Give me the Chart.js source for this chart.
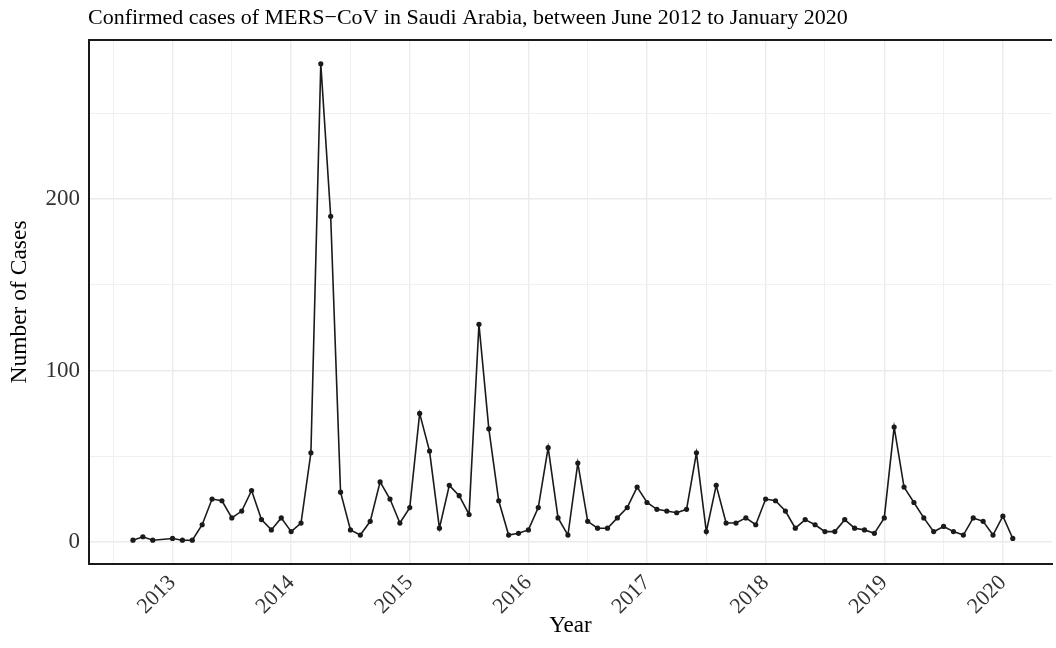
<!DOCTYPE html>
<html>
<head>
<meta charset="utf-8">
<title>MERS-CoV cases in Saudi Arabia</title>
<script src="https://cdn.jsdelivr.net/npm/chart.js@4/dist/chart.umd.min.js"></script>
<style>
  html, body { margin: 0; padding: 0; background: #ffffff; overflow: hidden; }
  canvas { display: block; }
</style>
</head>
<body>
<canvas id="chart" width="1056" height="648"></canvas>
<script>
// Monthly confirmed MERS-CoV cases (Dec 2012 has no report)
const months = [
  '2012-09','2012-10','2012-11',
  '2013-01','2013-02','2013-03','2013-04','2013-05','2013-06','2013-07','2013-08','2013-09','2013-10','2013-11','2013-12',
  '2014-01','2014-02','2014-03','2014-04','2014-05','2014-06','2014-07','2014-08','2014-09','2014-10','2014-11','2014-12',
  '2015-01','2015-02','2015-03','2015-04','2015-05','2015-06','2015-07','2015-08','2015-09','2015-10','2015-11','2015-12',
  '2016-01','2016-02','2016-03','2016-04','2016-05','2016-06','2016-07','2016-08','2016-09','2016-10','2016-11','2016-12',
  '2017-01','2017-02','2017-03','2017-04','2017-05','2017-06','2017-07','2017-08','2017-09','2017-10','2017-11','2017-12',
  '2018-01','2018-02','2018-03','2018-04','2018-05','2018-06','2018-07','2018-08','2018-09','2018-10','2018-11','2018-12',
  '2019-01','2019-02','2019-03','2019-04','2019-05','2019-06','2019-07','2019-08','2019-09','2019-10','2019-11','2019-12',
  '2020-01','2020-02'
];
const cases = [
  1, 3, 1,
  2, 1, 1, 10, 25, 24, 14, 18, 30, 13, 7, 14,
  6, 11, 52, 279, 190, 29, 7, 4, 12, 35, 25, 11,
  20, 75, 53, 8, 33, 27, 16, 127, 66, 24, 4, 5,
  7, 20, 55, 14, 4, 46, 12, 8, 8, 14, 20, 32,
  23, 19, 18, 17, 19, 52, 6, 33, 11, 11, 14, 10,
  25, 24, 18, 8, 13, 10, 6, 6, 13, 8, 7, 5,
  14, 67, 32, 23, 14, 6, 9, 6, 4, 14, 12, 4,
  15, 2
];
const yearTicks = [2013, 2014, 2015, 2016, 2017, 2018, 2019, 2020];
const caseTicks = [0, 100, 200];

const titleText = 'Confirmed cases of MERS\u2212CoV in Saudi Arabia, between June 2012 to January 2020';
const serif = '"Liberation Serif", "DejaVu Serif", "Times New Roman", serif';

// month string -> fractional year
function toYear(m) {
  const [y, mo] = m.split('-').map(Number);
  return y + (mo - 1) / 12;
}
const points = months.map((m, i) => ({ x: toYear(m), y: cases[i] }));

const gridMajor = '#ebebeb';
const gridMinor = '#f0f0f0';

const panelFrame = {
  id: 'panelFrame',
  afterDraw(chart) {
    const { ctx, chartArea } = chart;
    ctx.save();
    // top edge of the panel frame
    ctx.strokeStyle = '#1a1a1a';
    ctx.lineWidth = 2;
    ctx.beginPath();
    ctx.moveTo(chartArea.left - 1, chartArea.top);
    ctx.lineTo(chartArea.right, chartArea.top);
    ctx.stroke();
    // plot title, left-aligned with the panel
    ctx.fillStyle = '#000000';
    ctx.font = '22px ' + serif;
    ctx.textAlign = 'left';
    ctx.textBaseline = 'alphabetic';
    ctx.fillText(titleText, chartArea.left - 1, 24);
    ctx.restore();
  }
};

new Chart(document.getElementById('chart'), {
  type: 'line',
  data: {
    datasets: [{
      data: points,
      borderColor: '#1a1a1a',
      borderWidth: 1.6,
      pointRadius: 2.6,
      pointBackgroundColor: '#1a1a1a',
      pointBorderWidth: 0,
      tension: 0,
      fill: false
    }]
  },
  options: {
    responsive: false,
    devicePixelRatio: 1,
    animation: false,
    events: [],
    layout: { padding: { top: 40, left: 0, right: 0, bottom: 0 } },
    plugins: { legend: { display: false }, tooltip: { enabled: false }, title: { display: false } },
    scales: {
      x: {
        type: 'linear',
        min: 2012.296,
        max: 2020.414,
        afterFit(scale) { scale.height = 84; },
        border: { display: true, color: '#1a1a1a', width: 2 },
        grid: {
          drawTicks: false,
          color: c => (c.tick && Number.isInteger(c.tick.value)) ? gridMajor : gridMinor,
          lineWidth: c => (c.tick && Number.isInteger(c.tick.value)) ? 1.4 : 1
        },
        ticks: {
          stepSize: 0.5,
          includeBounds: false,
          autoSkip: false,
          maxRotation: 45,
          minRotation: 45,
          padding: 6,
          color: '#333333',
          font: { family: serif, size: 22 },
          callback: v => yearTicks.includes(v) ? String(v) : ''
        },
        title: {
          display: true,
          text: 'Year',
          color: '#000000',
          font: { family: serif, size: 23 },
          padding: { top: 0, bottom: 8 }
        }
      },
      y: {
        type: 'linear',
        min: -12.9,
        max: 292.9,
        afterFit(scale) { scale.width = 89; },
        border: { display: true, color: '#1a1a1a', width: 2 },
        grid: {
          drawTicks: false,
          color: c => (c.tick && c.tick.value % 100 === 0) ? gridMajor : gridMinor,
          lineWidth: c => (c.tick && c.tick.value % 100 === 0) ? 1.4 : 1
        },
        ticks: {
          stepSize: 50,
          includeBounds: false,
          autoSkip: false,
          padding: 9,
          color: '#333333',
          font: { family: serif, size: 23 },
          callback: v => caseTicks.includes(v) ? String(v) : ''
        },
        title: {
          display: true,
          text: 'Number of Cases',
          color: '#000000',
          font: { family: serif, size: 23.5 },
          padding: { top: 6, bottom: 0 }
        }
      }
    }
  },
  plugins: [panelFrame]
});
</script>
</body>
</html>
